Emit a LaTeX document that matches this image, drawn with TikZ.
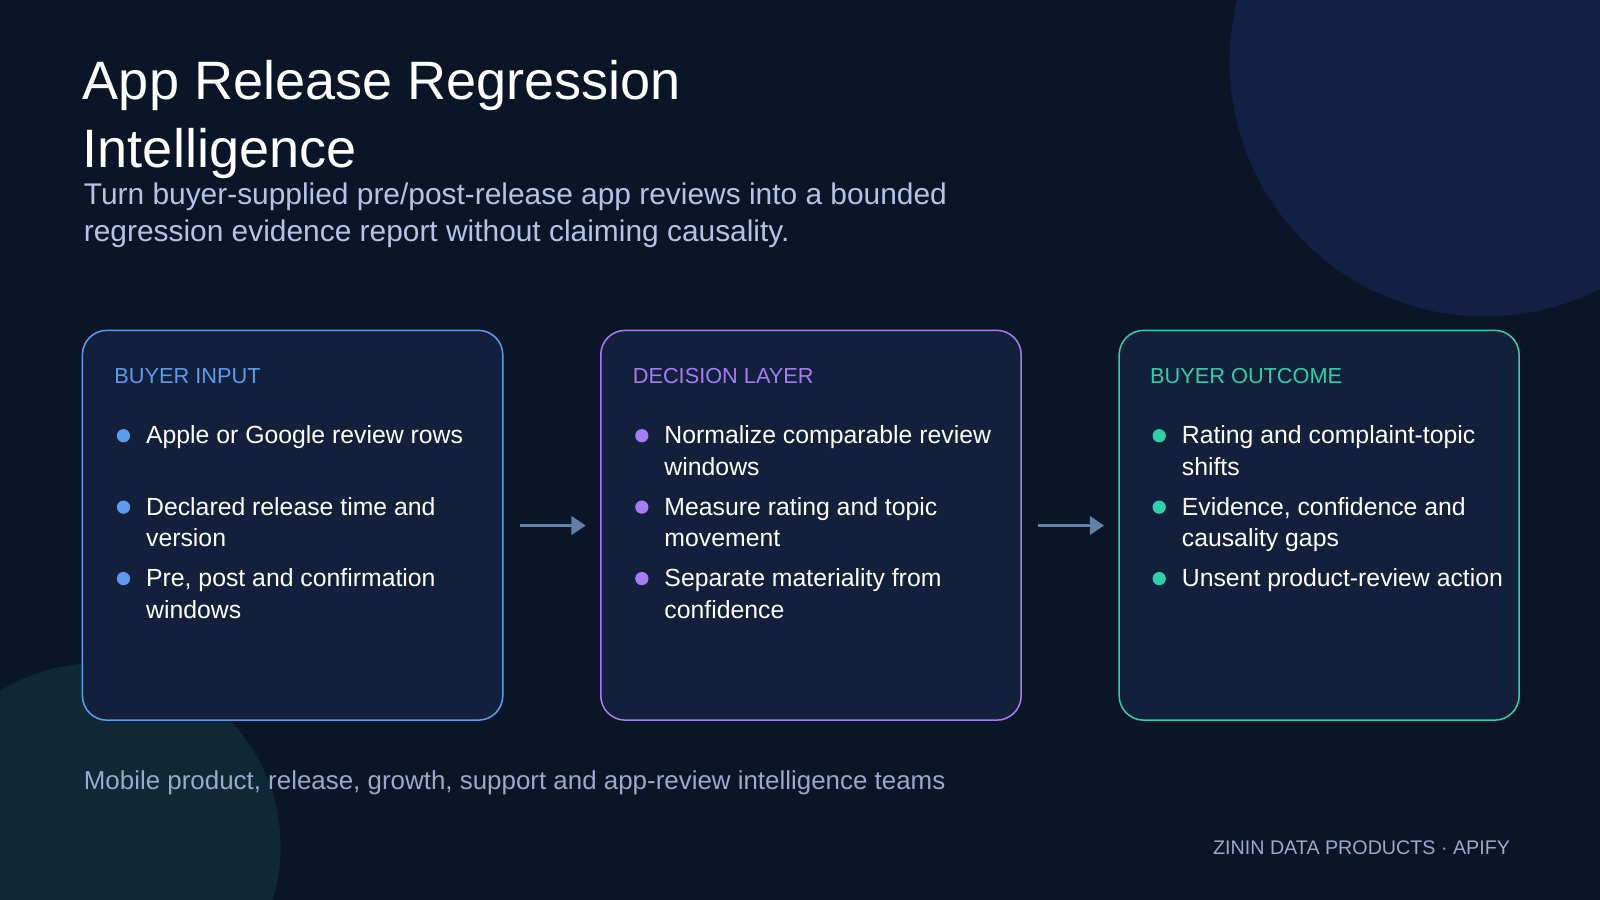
\documentclass[tikz,border=0pt]{standalone}
\usepackage{fontspec}
\setmainfont{Liberation Sans}
\usetikzlibrary{arrows.meta}
\definecolor{bg}{HTML}{0B1528}
\definecolor{boxf}{HTML}{12203C}
\definecolor{cblue}{HTML}{5B9CF0}
\definecolor{cpurp}{HTML}{A67CF5}
\definecolor{cgreen}{HTML}{2DD0A8}
\definecolor{sub}{HTML}{B4C4E4}
\definecolor{foot}{HTML}{9AAACB}
\definecolor{arr}{HTML}{6380A8}
\definecolor{circA}{HTML}{122044}
\definecolor{circB}{HTML}{0F2836}
\tikzset{
 card/.style={draw=#1, line width=1.5pt, fill=boxf, rounded corners=24pt},
 lab/.style={anchor=base west, text=#1, inner sep=0pt, font=\fontsize{21.3}{25}\selectfont},
 item/.style={anchor=base west, text=white, align=left, inner sep=0pt, font=\fontsize{24.3}{31}\selectfont},
 dot/.style={circle, fill=#1, minimum size=13pt, inner sep=0pt},
 flow/.style={draw=arr, line width=3pt, -{Triangle[length=14pt,width=18pt]}}
}
\begin{document}
\begin{tikzpicture}[x=1pt,y=-1pt]
\fill[bg] (0,0) rectangle (1568,882);
\begin{scope}
\clip (0,0) rectangle (1568,882);
\fill[circA] (1455,60) circle (250);
\fill[circB] (95,830) circle (180);
\end{scope}
\useasboundingbox (0,0) rectangle (1568,882);
\node[anchor=base west, text=white, align=left, inner sep=0pt, font=\fontsize{53}{66}\selectfont] (title) at (81,164) {App Release Regression\\Intelligence};
\node[anchor=base west, text=sub, align=left, inner sep=0pt, font=\fontsize{29.3}{37}\selectfont] (subtitle) at (82,237) {Turn buyer-supplied pre/post-release app reviews into a bounded\\regression evidence report without claiming causality.};
\node[card=cblue, minimum width=412pt, minimum height=382pt, anchor=north west] (b1) at (80,323) {};
\node[card=cpurp, minimum width=412pt, minimum height=382pt, anchor=north west] (b2) at (588,323) {};
\node[card=cgreen, minimum width=392pt, minimum height=382pt, anchor=north west] (b3) at (1096,323) {};
\coordinate (a1s) at (510,515); \coordinate (a1e) at (574,515);
\coordinate (a2s) at (1017,515); \coordinate (a2e) at (1082,515);
\draw[flow] (a1s) -- (a1e);
\draw[flow] (a2s) -- (a2e);
% box 1
\node[lab=cblue] (l1) at (112,376) {BUYER INPUT};
\node[dot=cblue] (d11) at (121,427) {}; \node[item] (t11) at (143,435) {Apple or Google review rows};
\node[dot=cblue] (d12) at (121,497) {}; \node[item] (t12) at (143,536) {Declared release time and\\version};
\node[dot=cblue] (d13) at (121,567) {}; \node[item] (t13) at (143,606) {Pre, post and confirmation\\windows};
% box 2
\node[lab=cpurp] (l2) at (620,376) {DECISION LAYER};
\node[dot=cpurp] (d21) at (629,427) {}; \node[item] (t21) at (651,466) {Normalize comparable review\\windows};
\node[dot=cpurp] (d22) at (629,497) {}; \node[item] (t22) at (651,536) {Measure rating and topic\\movement};
\node[dot=cpurp] (d23) at (629,567) {}; \node[item] (t23) at (651,606) {Separate materiality from\\confidence};
% box 3
\node[lab=cgreen] (l3) at (1127,376) {BUYER OUTCOME};
\node[dot=cgreen] (d31) at (1136,427) {}; \node[item] (t31) at (1158,466) {Rating and complaint-topic\\shifts};
\node[dot=cgreen] (d32) at (1136,497) {}; \node[item] (t32) at (1158,536) {Evidence, confidence and\\causality gaps};
\node[dot=cgreen] (d33) at (1136,567) {}; \node[item] (t33) at (1158,575) {Unsent product-review action};
\node[anchor=base west, text=foot, inner sep=0pt, font=\fontsize{25.4}{30}\selectfont] (footer) at (82,774) {Mobile product, release, growth, support and app-review intelligence teams};
\node[anchor=base east, text=foot, inner sep=0pt, font=\fontsize{19.3}{23}\selectfont] (credit) at (1480,837) {ZININ DATA PRODUCTS · APIFY};
\end{tikzpicture}
\end{document}
